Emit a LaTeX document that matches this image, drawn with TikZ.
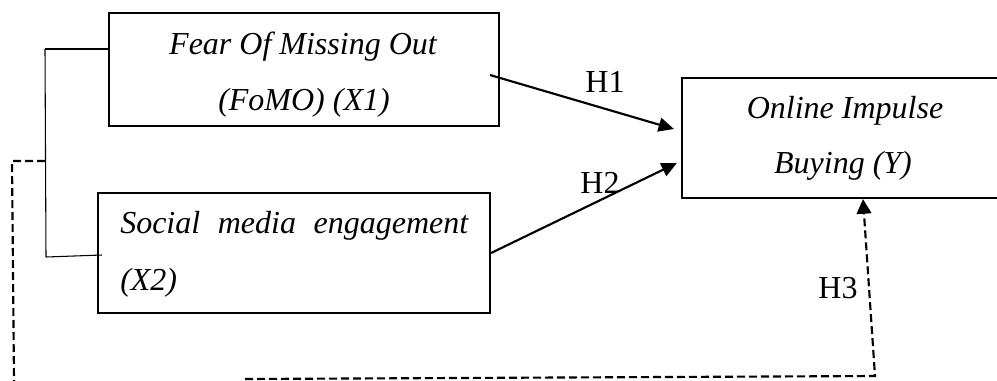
\documentclass[tikz,border=0pt]{standalone}
\usepackage{fontspec}
\setmainfont{Liberation Serif}
\usetikzlibrary{arrows.meta,calc}
\begin{document}
\begin{tikzpicture}[x=0.75pt,y=-0.75pt,
  box/.style={draw,line width=1.6pt,inner sep=0pt},
  txt/.style={font=\fontsize{24}{28}\selectfont\itshape,inner sep=0pt,anchor=base},
  hlab/.style={font=\fontsize{24}{28}\selectfont,inner sep=0pt,anchor=base},
  link/.style={line width=0.8pt},
  arr/.style={line width=1.6pt,-{Triangle[length=11.5pt,width=10.5pt]}},
  dsh/.style={line width=1.6pt,dash pattern=on 6pt off 3pt}]
\useasboundingbox (0,0) rectangle (997,380);
\clip (0,0) rectangle (997,380);
% boxes
\node[box,minimum width=292.5pt,minimum height=84.75pt] (x1) at (304,69.5) {};
\node[box,minimum width=294pt,minimum height=90pt] (x2) at (294,253) {};
\node[box,minimum width=243pt,minimum height=90pt] (y) at (844,138) {};
% texts
\node[txt] (t1a) at (303,54) {Fear Of Missing Out};
\node[txt] (t1b) at (304,110) {(FoMO) (X1)};
\node[txt,anchor=base west] (t2a) at (120,233) {\makebox[261pt][s]{Social media engagement}};
\node[txt,anchor=base west] (t2b) at (120,290) {(X2)};
\node[txt] (ya) at (845,118) {Online Impulse};
\node[txt] (yb) at (843,173) {Buying (Y)};
% hypothesis labels
\node[hlab] (h1) at (605,92) {H1};
\node[hlab] (h2) at (600,193) {H2};
\node[hlab] (h3) at (838,298) {H3};
% arrows
\coordinate (h1s) at (490,75);
\draw[arr] (h1s) -- ($(y.west)+(-7,-9)$);
\draw[arr] (x2.east) -- ($(y.west)+(-4,25)$);
% bracket
\coordinate (bt) at (45,49);
\coordinate (bb) at (46,257);
\coordinate (dm) at (45,161);
\draw[link] (bt) -- (x1.west |- bt);
\draw[link] (bt) -- (bb);
\draw[link] (bb) -- ($(x2.west)+(5,2)$);
% dashed moderation path
\coordinate (dl) at (12,161);
\coordinate (dlb) at (14,381);
\coordinate (db) at (245,379);
\coordinate (c3) at (875,376);
\draw[dsh] (dm) -- (dl) -- (dlb);
\draw[dsh,-{Triangle[length=11pt,width=11pt]}] (db) -- (c3) -- ($(y.south)+(19,0)$);
\end{tikzpicture}
\end{document}
